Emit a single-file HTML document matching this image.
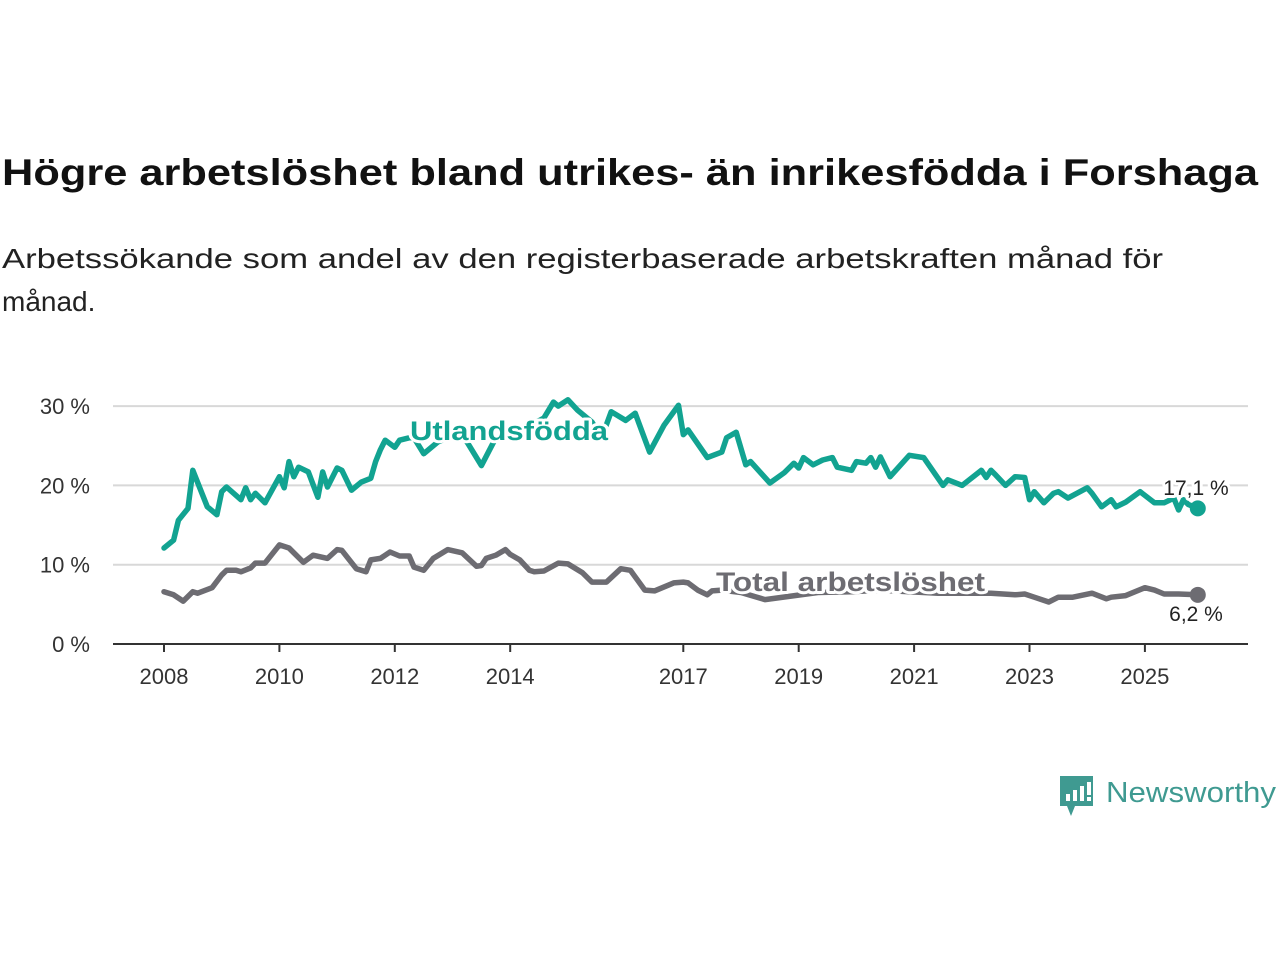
<!DOCTYPE html>
<html><head><meta charset="utf-8"><style>
html,body{margin:0;padding:0;background:#fff;}
svg{display:block;font-family:"Liberation Sans",sans-serif;}
</style></head><body>
<svg id="chart" width="1280" height="960" viewBox="0 0 1280 960">
<text x="2" y="185" font-size="37" font-weight="bold" fill="#111" textLength="1256" lengthAdjust="spacingAndGlyphs">Högre arbetslöshet bland utrikes- än inrikesfödda i Forshaga</text>
<text x="2" y="268" font-size="28" fill="#222" textLength="1161" lengthAdjust="spacingAndGlyphs">Arbetssökande som andel av den registerbaserade arbetskraften månad för</text>
<text x="2" y="311" font-size="28" fill="#222">månad.</text>
<g id="grid"></g><g id="lines"></g><g id="labels"></g>
<g>
<path d="M1060 776 h33 v30 h-18 l-4 10 l-4 -10 h-7 z" fill="#3f9a91"/>
<rect x="1066" y="794" width="4" height="7" fill="#fff"/><rect x="1073" y="790" width="4" height="11" fill="#fff"/><rect x="1080" y="786" width="4" height="15" fill="#fff"/><rect x="1087" y="782" width="4" height="13" fill="#fff"/><rect x="1087" y="797" width="4" height="4" fill="#fff"/>
<text x="1106" y="802" font-size="29" fill="#3f9a91" textLength="170" lengthAdjust="spacingAndGlyphs">Newsworthy</text>
</g>
</svg>
<script>
const yTicks=[0,10,20,30];
const xTickYears=[2008,2010,2012,2014,2017,2019,2021,2023,2025];
const foreignMonths=[0,2,3,5,6,9,11,12,13,16,17,18,19,21,24,25,26,27,28,30,32,33,34,36,37,39,41,43,44,45,46,48,49,51,52,54,57,61,63,66,69,72,76,79,81,82,84,86,89,91,93,96,98,101,104,107,108,109,113,116,117,119,121,122,126,129,131,132,133,135,137,139,140,143,144,146,147,148,149,151,155,158,162,163,166,170,171,172,173,175,177,179,180,181,183,185,186,188,192,193,195,197,198,200,203,206,208,210,211,212,213,215];
const foreignValues=[12.1,13.1,15.6,17.1,21.9,17.3,16.3,19.2,19.8,18.2,19.7,18.2,19.0,17.8,21.1,19.7,23.0,21.1,22.3,21.7,18.5,21.7,19.8,22.2,21.9,19.4,20.4,20.9,23.0,24.5,25.7,24.8,25.7,26.0,26.0,24.0,25.5,26.5,25.5,22.5,26.0,27.0,27.5,28.5,30.5,30.0,30.8,29.5,28.0,26.0,29.3,28.2,29.1,24.2,27.6,30.1,26.4,27.0,23.5,24.2,26.0,26.7,22.6,23.0,20.3,21.6,22.8,22.2,23.5,22.6,23.2,23.5,22.3,21.9,23.0,22.8,23.5,22.3,23.6,21.1,23.8,23.5,20.0,20.7,20.0,21.9,21.0,21.9,21.3,20.0,21.1,21.0,18.2,19.2,17.8,19.0,19.2,18.4,19.7,19.0,17.3,18.2,17.3,17.9,19.2,17.8,17.8,18.4,16.9,18.2,17.6,17.1];
const totalMonths=[0,2,4,6,7,10,12,13,15,16,18,19,21,24,26,29,31,34,36,37,40,42,43,45,47,49,51,52,54,56,59,62,65,66,67,69,71,72,74,76,77,79,82,84,87,89,92,95,97,100,102,106,108,109,111,113,114,116,120,125,130,136,143,149,155,161,168,172,177,179,181,184,186,189,193,196,197,200,204,206,208,211,215];
const totalValues=[6.6,6.2,5.4,6.6,6.4,7.1,8.7,9.3,9.3,9.1,9.6,10.2,10.2,12.5,12.1,10.3,11.2,10.8,11.9,11.8,9.5,9.1,10.6,10.8,11.6,11.1,11.1,9.7,9.3,10.8,11.9,11.5,9.8,9.9,10.8,11.2,11.9,11.3,10.6,9.3,9.1,9.2,10.2,10.1,9.0,7.8,7.8,9.5,9.3,6.8,6.7,7.7,7.8,7.7,6.8,6.2,6.7,6.8,6.5,5.6,6.0,6.5,6.6,6.8,6.6,6.4,6.4,6.4,6.2,6.3,5.9,5.3,5.9,5.9,6.4,5.7,5.9,6.1,7.1,6.8,6.3,6.3,6.2];
const NS='http://www.w3.org/2000/svg';
const X=m=>164+m/12*57.7;
const Y=v=>644-v*7.93;
function mk(tag,attrs,parent,txt){const e=document.createElementNS(NS,tag);for(const k in attrs)e.setAttribute(k,attrs[k]);if(txt!==undefined)e.textContent=txt;parent.appendChild(e);return e;}
const grid=document.getElementById('grid'),lines=document.getElementById('lines'),labels=document.getElementById('labels');
yTicks.forEach(t=>{
 if(t>0){const g=mk('line',{x1:113,x2:1248,y1:Y(t),y2:Y(t),stroke:'#d8d8d8','stroke-width':2},grid);
 
 }
 const l=mk('text',{x:90,y:Y(t)+8,'font-size':22,fill:'#333','text-anchor':'end'},grid,t+' %');
 
 
});
const ax=mk('line',{x1:113,x2:1248,y1:644,y2:644,stroke:'#333','stroke-width':2},grid);


xTickYears.forEach(yr=>{
 const x=X((yr-2008)*12);
 const tk=mk('line',{x1:x,x2:x,y1:644,y2:652,stroke:'#333','stroke-width':2},grid);
 
 
 const l=mk('text',{x:x,y:684,'font-size':22,fill:'#333','text-anchor':'middle'},grid,String(yr));
 
 
});
function series(ms,vs,color,name){
 const d=ms.map((m,i)=>(i?'L':'M')+X(m).toFixed(1)+' '+Y(vs[i]).toFixed(1)).join(' ');
 const p=mk('path',{d:d,fill:'none',stroke:color,'stroke-width':5.5,'stroke-linejoin':'round','stroke-linecap':'round'},lines);
 
 
 const n=ms.length-1;
 const c=mk('circle',{cx:X(ms[n]),cy:Y(vs[n]),r:8,fill:color},lines);
 
 
}
series(foreignMonths,foreignValues,'#12a391','foreign-born');
series(totalMonths,totalValues,'#6d6c72','total');
function lab(x,y,txt,color,size,bold,anchor,name,len){
 const a={x:x,y:y,'font-size':size,'font-weight':bold?'bold':'normal',fill:color,'text-anchor':anchor,stroke:'#fff','stroke-width':6,'paint-order':'stroke','stroke-linejoin':'round'};
 if(len){a.textLength=len;a.lengthAdjust='spacingAndGlyphs';}
 const t=mk('text',a,labels,txt);
 
 
}
lab(410,440,'Utlandsfödda','#12a391',27,true,'start','foreign-born-label',198);
lab(716,591,'Total arbetslöshet','#6d6c72',27,true,'start','total-label',269);
const fn=foreignValues.length-1,tn=totalValues.length-1;
lab(1196,495,foreignValues[fn].toFixed(1).replace('.',',')+' %','#222',21,false,'middle','foreign-born-end-value');
lab(1196,621,totalValues[tn].toFixed(1).replace('.',',')+' %','#222',21,false,'middle','total-end-value');
</script>
</body></html>
